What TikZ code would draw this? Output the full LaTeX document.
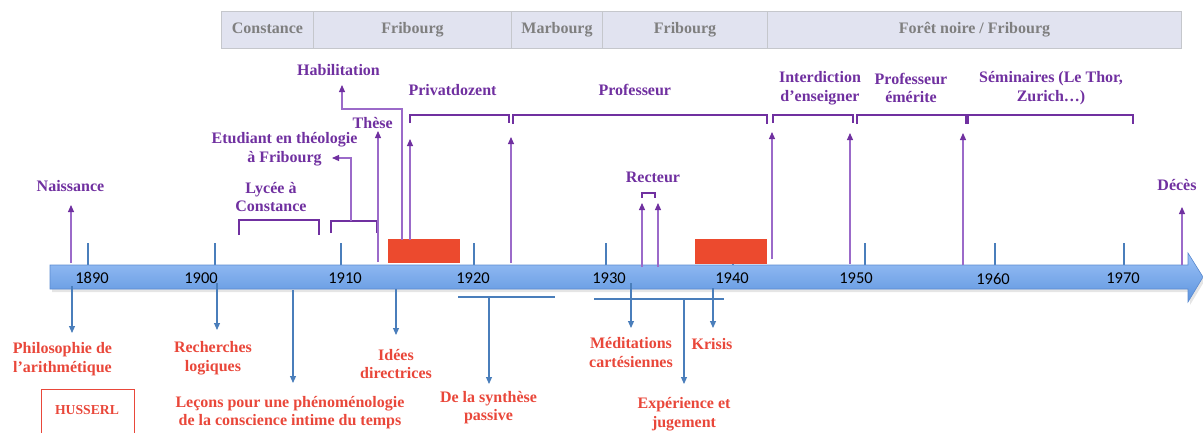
\documentclass[tikz,border=0pt]{standalone}
\usepackage{fontspec}
\setmainfont{Liberation Serif}
\newfontfamily\yearfont{Carlito}
\usetikzlibrary{arrows.meta}
\definecolor{pdark}{HTML}{7030A0}
\definecolor{pline}{HTML}{9B6AC9}
\definecolor{bluel}{HTML}{4A7EBB}
\definecolor{rtext}{HTML}{E9473A}
\definecolor{rbox}{HTML}{EC4A2E}
\definecolor{barfill}{HTML}{E1E3F0}
\definecolor{bardraw}{HTML}{C5C7CC}
\definecolor{gtext}{HTML}{7F7F7F}
\definecolor{tltop}{HTML}{9DC3F7}
\definecolor{tlbot}{HTML}{5C93DE}
\definecolor{tledge}{HTML}{5A8AD0}
\tikzset{
  ptxt/.style={text=pdark, font=\fontsize{16}{18.5}\selectfont\bfseries, align=center, inner sep=0pt},
  rtxt/.style={text=rtext, font=\fontsize{16}{18.5}\selectfont\bfseries, align=center, inner sep=0pt},
  cell/.style={draw=bardraw, fill=barfill, line width=1pt, text=gtext,
    font=\fontsize{16}{18.5}\selectfont\bfseries, text height=11pt, text depth=3.5pt,
    minimum height=37pt, inner sep=0pt, anchor=west},
  yeartxt/.style={font=\yearfont\fontsize{16.5}{18}\selectfont, inner sep=0pt, anchor=base},
  parrow/.style={draw=pline, line width=1.1pt, -{Triangle[width=6pt,length=7pt,color=pdark]}},
  pbrace/.style={draw=pdark, line width=2.2pt},
  barrow/.style={draw=bluel, line width=1.1pt, -{Triangle[width=6pt,length=7pt]}},
  blink/.style={draw=bluel, line width=1.1pt},
  tick/.style={draw=bluel, line width=2pt},
  redbox/.style={fill=rbox, draw=none},
}
\begin{document}
\begin{tikzpicture}[x=1pt,y=-1pt]
\useasboundingbox (0,0) rectangle (1203,432);

% top bar of places
\node[cell, minimum width=92pt]  (pc1) at (221,29.5) {Constance};
\node[cell, minimum width=198pt] (pc2) at (313,29.5) {Fribourg};
\node[cell, minimum width=91pt]  (pc3) at (511,29.5) {Marbourg};
\node[cell, minimum width=165pt] (pc4) at (602,29.5) {Fribourg};
\node[cell, minimum width=414pt] (pc5) at (767,29.5) {Forêt noire / Fribourg};

% ticks
\foreach \tx in {88,215,341,474,606,733,865,995,1124}
  \draw[tick] (\tx,243) -- (\tx,265);

% red boxes
\fill[redbox] (388,239) rectangle (460,263);
\fill[redbox] (695,239) rectangle (767,264);

% timeline arrow
\fill[black, opacity=0.10] (52,268) -- (1190,268) -- (1190,256) -- (1205,280) -- (1190,305) -- (1190,292) -- (52,292) -- cycle;
\shade[top color=tltop, bottom color=tlbot, draw=tledge, line width=0.6pt]
  (50,265) -- (1188,265) -- (1188,253) -- (1203,277) -- (1188,302) -- (1188,289) -- (50,289) -- cycle;

% years
\node[yeartxt] (y1890) at (92,283) {1890};
\node[yeartxt] (y1900) at (201,283) {1900};
\node[yeartxt] (y1910) at (345,283) {1910};
\node[yeartxt] (y1920) at (473,283) {1920};
\node[yeartxt] (y1930) at (609,283) {1930};
\node[yeartxt] (y1940) at (732,283) {1940};
\node[yeartxt] (y1950) at (856,283) {1950};
\node[yeartxt] (y1960) at (993,284) {1960};
\node[yeartxt] (y1970) at (1123,283) {1970};

% purple labels
\node[ptxt, anchor=base] (naiss) at (70.5,191) {Naissance};
\node[ptxt] (lycee) at (271,197) {Lycée à\\Constance};
\node[ptxt] (etud) at (284.5,149) {Etudiant en théologie\\à Fribourg};
\node[ptxt, anchor=base] (these) at (372.7,128) {Thèse};
\node[ptxt, anchor=base] (habil) at (338.5,75) {Habilitation};
\node[ptxt, anchor=base] (privat) at (452.5,95) {Privatdozent};
\node[ptxt, anchor=base] (prof) at (634.8,95) {Professeur};
\node[ptxt] (interd) at (820,88) {Interdiction\\d’enseigner};
\node[ptxt] (emer) at (911,88) {Professeur\\émérite};
\node[ptxt] (semin) at (1051,88) {Séminaires (Le Thor,\\Zurich…)};
\node[ptxt, anchor=base] (recteur) at (653,182) {Recteur};
\node[ptxt, anchor=base] (deces) at (1177,190) {Décès};

% brackets
\draw[pbrace] (239,235) -- (239,220) -- (319,220) -- (319,235);
\draw[pbrace] (331,233) -- (331,221) -- (377,221) -- (377,233);
\draw[pbrace] (410,123) -- (410,115) -- (509,115) -- (509,123);
\draw[pbrace] (513,124) -- (513,115) -- (767,115) -- (767,124);
\draw[pbrace] (773,123) -- (773,115) -- (853,115) -- (853,123);
\draw[pbrace] (857,124) -- (857,115) -- (966,115) -- (966,124);
\draw[pbrace] (968,124) -- (968,115) -- (1133,115) -- (1133,124);
\draw[pbrace, line width=1.8pt] (642,198) -- (642,193) -- (655,193) -- (655,198);

% purple arrow coordinates
\coordinate (naissA) at (71,263);   \coordinate (naissB) at (71,205);
\coordinate (etudA) at (351,221);   \coordinate (etudB) at (332,158);
\coordinate (theseA) at (378,262);  \coordinate (theseB) at (378,131);
\coordinate (habilA) at (402,240);  \coordinate (habilB) at (342,85);
\coordinate (privA) at (410,240);   \coordinate (privB) at (410,139);
\coordinate (profA) at (511,263);   \coordinate (profB) at (511,137);
\coordinate (intA) at (772,259);    \coordinate (intB) at (772,132);
\coordinate (emerA) at (850,264);   \coordinate (emerB) at (850,133);
\coordinate (semA) at (963,265);    \coordinate (semB) at (963,133);
\coordinate (decA) at (1182,265);   \coordinate (decB) at (1182,207);
\coordinate (recA) at (642,267);    \coordinate (recB) at (642,203);
\coordinate (recC) at (658,267);    \coordinate (recD) at (658,203);

\draw[parrow] (naissA) -- (naissB);
\draw[parrow] (etudA) |- (etudB);
\draw[parrow] (theseA) -- (theseB);
\draw[parrow] (habilA) -- (402,109) -| (habilB);
\draw[parrow] (privA) -- (privB);
\draw[parrow] (profA) -- (profB);
\draw[parrow] (intA) -- (intB);
\draw[parrow] (emerA) -- (emerB);
\draw[parrow] (semA) -- (semB);
\draw[parrow] (decA) -- (decB);
\draw[parrow] (recA) -- (recB);
\draw[parrow] (recC) -- (recD);

% red labels (works)
\node[rtxt] (philo) at (62.5,359) {Philosophie de\\l’arithmétique};
\node[draw=rtext, line width=0.8pt, minimum width=93pt, minimum height=44pt, inner sep=0pt] (husbox) at (87.5,411) {};
\node[text=rtext, font=\fontsize{13.7}{16}\selectfont\bfseries, inner sep=0pt, anchor=base] (husserl) at (87,414) {HUSSERL};
\node[rtxt] (rech) at (213,358) {Recherches\\logiques};
\node[rtxt] (lecons) at (290,412.5) {Leçons pour une phénoménologie\\de la conscience intime du temps};
\node[rtxt] (idees) at (396,364) {Idées\\directrices};
\node[rtxt] (synth) at (488.5,407.5) {De la synthèse\\passive};
\node[rtxt] (medit) at (631,352.5) {Méditations\\cartésiennes};
\node[rtxt] (exper) at (684,414) {Expérience et\\jugement};
\node[rtxt, anchor=base] (krisis) at (712,349) {Krisis};

% blue arrow coordinates
\coordinate (philA) at (72,286);   \coordinate (philB) at (72,333);
\coordinate (rechA) at (217,283);  \coordinate (rechB) at (217,330);
\coordinate (lecA) at (293,290);   \coordinate (lecB) at (293,383);
\coordinate (idA) at (396,289);    \coordinate (idB) at (396,335);
\coordinate (synL) at (458,297);   \coordinate (synR) at (555,297);
\coordinate (synA) at (489,297);   \coordinate (synB) at (489,384);
\coordinate (medA) at (631,283);   \coordinate (medB) at (631,328);
\coordinate (expL) at (594,299);   \coordinate (expR) at (724,299);
\coordinate (expA) at (684,299);   \coordinate (expB) at (684,384);
\coordinate (kriA) at (713,288);   \coordinate (kriB) at (713,328);

\draw[barrow] (philA) -- (philB);
\draw[barrow] (rechA) -- (rechB);
\draw[barrow] (lecA) -- (lecB);
\draw[barrow] (idA) -- (idB);
\draw[blink] (synL) -- (synR);
\draw[barrow] (synA) -- (synB);
\draw[barrow] (medA) -- (medB);
\draw[blink] (expL) -- (expR);
\draw[barrow] (expA) -- (expB);
\draw[barrow] (kriA) -- (kriB);
\end{tikzpicture}
\end{document}
